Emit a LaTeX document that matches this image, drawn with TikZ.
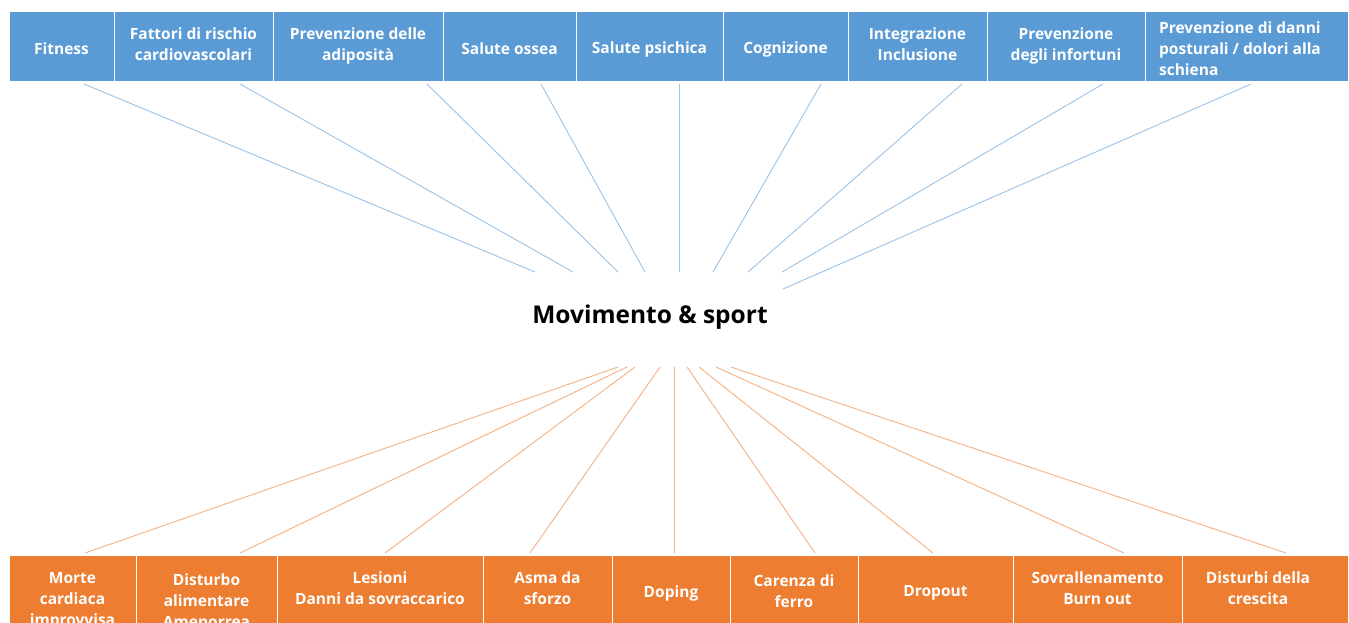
\documentclass[tikz,border=0pt]{standalone}
\usepackage{fontspec}
\setmainfont{Open Sans}
\definecolor{topblue}{HTML}{5B9BD5}
\definecolor{botorange}{HTML}{ED7D31}
\definecolor{lineblue}{HTML}{9DC3E6}
\definecolor{lineorange}{HTML}{F4B183}
\tikzset{
  boxtop/.style={fill=topblue,draw=white,line width=1pt},
  boxbot/.style={fill=botorange,draw=white,line width=1pt},
  lbl/.style={text=white,font=\bfseries\fontsize{15.5}{21}\selectfont,align=center,inner sep=0pt},
  upline/.style={draw=lineblue,line width=0.9pt},
  downline/.style={draw=lineorange,line width=0.9pt},
}
\begin{document}
\begin{tikzpicture}[x=1pt,y=-1pt]
\useasboundingbox (0,0) rectangle (1349,622);
\clip (0,0) rectangle (1349,622);
\fill[white] (0,0) rectangle (1349,622);
% top boxes
\foreach \a/\b in {9/114,114/273,273/443,443/576,576/723,723/848,848/987,987/1145,1145/1348}
  \path[boxtop] (\a,11) rectangle (\b,81);
% bottom boxes
\foreach \a/\b in {9/136,136/277,277/483,483/612,612/730,730/858,858/1013,1013/1182,1182/1348}
  \path[boxbot] (\a,555) rectangle (\b,660);
% top labels
\node[lbl] (t1) at (61.5,48.5) {Fitness};
\node[lbl] (t2) at (193.5,44) {Fattori di rischio\\cardiovascolari};
\node[lbl] (t3) at (358,46) {Prevenzione delle\\adiposità};
\node[lbl] (t4) at (509.5,48.5) {Salute ossea};
\node[lbl] (t5) at (649.5,49) {Salute psichica};
\node[lbl] (t6) at (785.5,49) {Cognizione};
\node[lbl] (t7) at (917.5,44.5) {Integrazione\\Inclusione};
\node[lbl] (t8) at (1066,45.5) {Prevenzione\\degli infortuni};
\node[lbl,align=left] (t9) at (1240,48.5) {Prevenzione di danni\\posturali / dolori alla\\schiena};
% centre
\node[inner sep=0pt,anchor=base,font=\bfseries\fontsize{24.5}{28}\selectfont] (c) at (650,323) {Movimento \& sport};
% bottom labels
\node[lbl] (b1) at (72.5,601) {Morte\\cardiaca\\improvvisa};
\node[lbl] (b2) at (206.5,600.5) {Disturbo\\alimentare\\Amenorrea};
\node[lbl] (b3) at (380,588) {Lesioni\\Danni da sovraccarico};
\node[lbl] (b4) at (547.5,588) {Asma da\\sforzo};
\node[lbl] (b5) at (671,593) {Doping};
\node[lbl] (b6) at (794,591.5) {Carenza di\\ferro};
\node[lbl] (b7) at (935.5,593) {Dropout};
\node[lbl] (b8) at (1097.5,588) {Sovrallenamento\\Burn out};
\node[lbl] (b9) at (1258,588) {Disturbi della\\crescita};
% connector end points
\foreach \i/\x/\cx/\cy in {1/84/535/272,2/240/573/272,3/427/618/272,4/541/645/272,5/679/679/272,6/821/713/272,7/962/748/272,8/1103/782/272,9/1251/783/289}{
  \coordinate (ts\i) at (\x,84);
  \coordinate (tc\i) at (\cx,\cy);
  \draw[upline] (ts\i) -- (tc\i);
}
\foreach \i/\cx/\x in {1/618/85,2/627/240,3/635/385,4/660/530,5/674/674,6/687/815,7/699/933,8/716/1124,9/731/1286}{
  \coordinate (bc\i) at (\cx,367);
  \coordinate (bs\i) at (\x,553);
  \draw[downline] (bc\i) -- (bs\i);
}
\end{tikzpicture}
\end{document}
